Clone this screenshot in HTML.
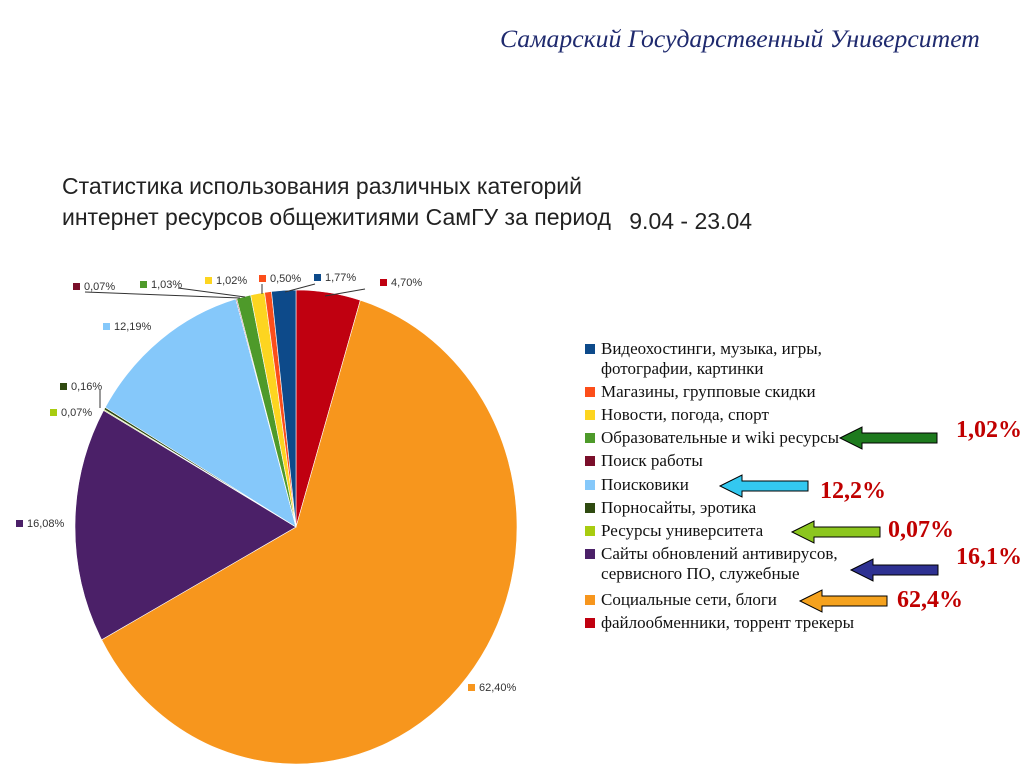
<!DOCTYPE html>
<html><head><meta charset="utf-8"><style>
body{margin:0;width:1024px;height:767px;background:#fff;position:relative;overflow:hidden;font-family:"Liberation Sans",sans-serif}
.hdr{position:absolute;left:500px;top:24px;font:italic 25.7px "Liberation Serif",serif;color:#1f2a6e}
.ttl{position:absolute;left:62px;top:171px;font-size:23px;line-height:31px;color:#222;white-space:nowrap}
.leg{position:absolute;left:585px;font:17px "Liberation Serif",serif;color:#111;line-height:20px;white-space:nowrap}
.sq{position:absolute;left:0;top:5px;width:10px;height:10px}
.tx{margin-left:16px}
.pct{position:absolute;font:bold 24px "Liberation Serif",serif;color:#c00000}
</style></head><body>
<div class="hdr">Самарский Государственный Университет</div>
<div class="ttl">Статистика использования различных категорий<br>интернет ресурсов общежитиями СамГУ за период <span style="font-size:23px;position:relative;top:4px;margin-left:12px">9.04 - 23.04</span></div>
<svg id="pie" width="1024" height="767" style="position:absolute;left:0;top:0"></svg>
<div id="legend"></div>
<svg width="1024" height="767" style="position:absolute;left:0;top:0">
<g stroke="#000" stroke-width="1">
<polygon fill="#1e7a1e" points="840,438 862,427 862,433 937,433 937,443 862,443 862,449"/>
<polygon fill="#33c8f0" points="720,486 742,475 742,481 808,481 808,491 742,491 742,497"/>
<polygon fill="#8cc61e" points="792,532 814,521 814,527 880,527 880,537 814,537 814,543"/>
<polygon fill="#2e3192" points="851,570 873,559 873,565 938,565 938,575 873,575 873,581"/>
<polygon fill="#f5a21e" points="800,601 822,590 822,596 887,596 887,606 822,606 822,612"/>
</g></svg>
<div class="pct" style="left:956px;top:417px">1,02%</div>
<div class="pct" style="left:820px;top:478px">12,2%</div>
<div class="pct" style="left:888px;top:517px">0,07%</div>
<div class="pct" style="left:956px;top:544px">16,1%</div>
<div class="pct" style="left:897px;top:587px">62,4%</div>
<script>
const categories=["файлообменники, торрент трекеры","Социальные сети, блоги","Сайты обновлений антивирусов, сервисного ПО, служебные","Ресурсы университета","Порносайты, эротика","Поисковики","Поиск работы","Образовательные и wiki ресурсы","Новости, погода, спорт","Магазины, групповые скидки","Видеохостинги, музыка, игры, фотографии, картинки"];
const values=[4.70,62.40,16.08,0.07,0.16,12.19,0.07,1.03,1.02,0.50,1.77];
const valueLabels=["4,70%","62,40%","16,08%","0,07%","0,16%","12,19%","0,07%","1,03%","1,02%","0,50%","1,77%"];
const colors=["#c00010","#f7961d","#4b2068","#a8cc10","#2f4a10","#85c8fa","#7a0f2a","#4e9a2a","#fdd520","#fc4e1a","#0d4a8a"];
const NS="http://www.w3.org/2000/svg";
const svg=document.getElementById('pie');
const cx=296,cy=527,rx=221,ry=237;
const total=values.reduce((a,b)=>a+b,0);
function pt(f){const a=f*2*Math.PI-Math.PI/2;return [cx+rx*Math.cos(a),cy+ry*Math.sin(a)];}
let acc=0;
values.forEach((v,i)=>{
  const f0=acc/total;acc+=v;const f1=acc/total;
  const p0=pt(f0),p1=pt(f1);
  const p=document.createElementNS(NS,'path');
  p.setAttribute('d',`M${cx},${cy}L${p0[0]},${p0[1]}A${rx},${ry} 0 ${(f1-f0)>0.5?1:0} 1 ${p1[0]},${p1[1]}Z`);
  p.setAttribute('fill',colors[i]);
  p.setAttribute('stroke','#fff');p.setAttribute('stroke-width','0.6');
  
  
  svg.appendChild(p);
});
const lblPos=[[380,286],[468,691],[16,527],[50,416],[60,390],[103,330],[73,290],[140,288],[205,284],[259,282],[314,281]];
values.forEach((v,i)=>{
  const [x,y]=lblPos[i];
  const r=document.createElementNS(NS,'rect');
  r.setAttribute('x',x);r.setAttribute('y',y-7);r.setAttribute('width',7);r.setAttribute('height',7);r.setAttribute('fill',colors[i]);
  
  
  svg.appendChild(r);
  const t=document.createElementNS(NS,'text');
  t.setAttribute('x',x+11);t.setAttribute('y',y);t.setAttribute('font-size','11');t.setAttribute('fill','#333');
  t.setAttribute('font-family','Liberation Sans, sans-serif');
  t.textContent=valueLabels[i];
  
  
  svg.appendChild(t);
});
[[[365,289],[325,296]],[[85,292],[240,298]],[[178,288],[245,297]],[[262,284],[262,294]],[[315,284],[285,292]],[[100,390],[100,408]]].forEach(l=>{
  const ln=document.createElementNS(NS,'line');
  ln.setAttribute('x1',l[0][0]);ln.setAttribute('y1',l[0][1]);ln.setAttribute('x2',l[1][0]);ln.setAttribute('y2',l[1][1]);
  ln.setAttribute('stroke','#333');ln.setAttribute('stroke-width','1');
  
  
  svg.appendChild(ln);
});
const legTops=[339,382,405,428,451,475,498,521,544,590,613];
const leg=document.getElementById('legend');
for(let k=0;k<categories.length;k++){
  const i=categories.length-1-k;
  const d=document.createElement('div');d.className='leg';d.style.top=legTops[k]+'px';
  
  
  let txt=categories[i];
  if(i===10)txt="Видеохостинги, музыка, игры,<br>фотографии, картинки";
  if(i===2)txt="Сайты обновлений антивирусов,<br>сервисного ПО, служебные";
  d.innerHTML=`<span class="sq" style="background:${colors[i]}"></span><div class="tx">${txt}</div>`;
  leg.appendChild(d);
}
</script>
</body></html>
